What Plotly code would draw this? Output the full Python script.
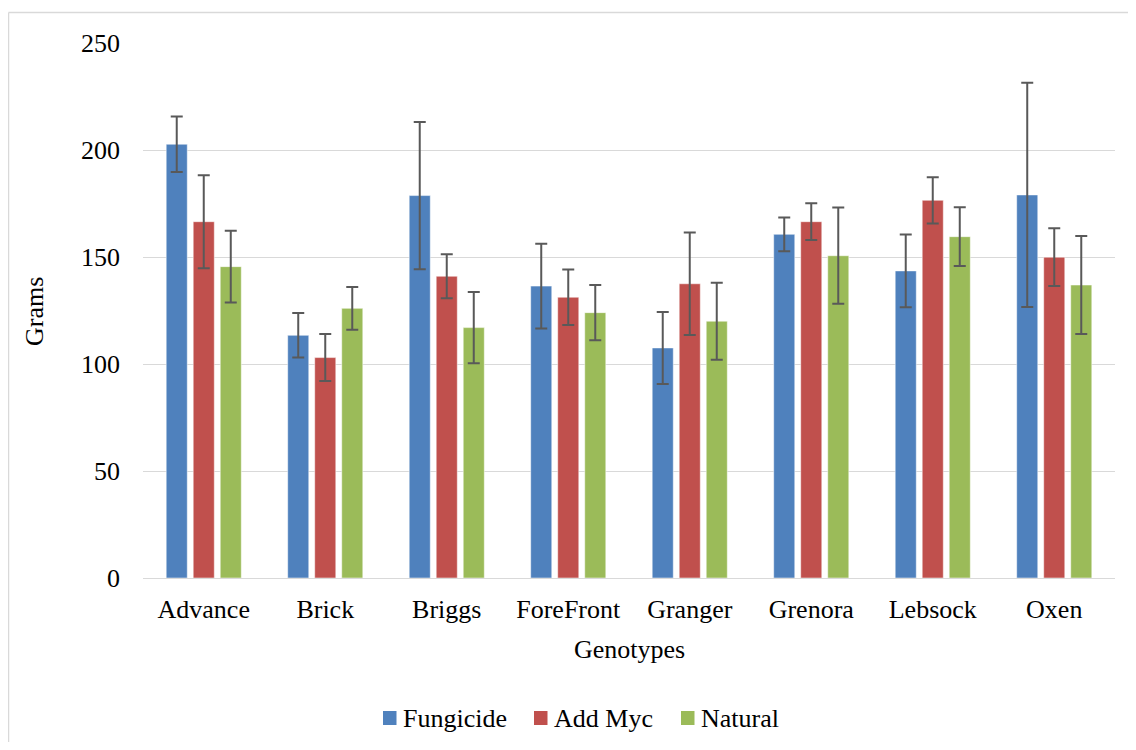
import plotly.graph_objects as go

categories = ["Advance", "Brick", "Briggs", "ForeFront", "Granger", "Grenora", "Lebsock", "Oxen"]
fungicide = [202.7, 113.4, 178.7, 136.4, 107.5, 160.6, 143.5, 179.0]
fungicide_err = [13.0, 10.4, 34.4, 19.8, 16.8, 7.9, 17.0, 52.4]
add_myc = [166.5, 103.0, 141.0, 131.2, 137.5, 166.5, 176.5, 149.9]
add_myc_err = [21.7, 11.0, 10.3, 13.0, 24.0, 8.6, 10.8, 13.5]
natural = [145.5, 126.0, 117.0, 124.0, 120.0, 150.6, 159.5, 136.9]
natural_err = [16.8, 10.0, 16.6, 12.9, 18.0, 22.5, 13.7, 22.9]
tick_vals = [0, 50, 100, 150, 200, 250]

series_names = ["Fungicide", "Add Myc", "Natural"]
series_colors = ["#4F81BD", "#C0504D", "#9BBB59"]
series_vals = [fungicide, add_myc, natural]
series_errs = [fungicide_err, add_myc_err, natural_err]

FONT = "Liberation Serif"
FS = 26

fig = go.Figure()
for name, vals, errs, color in zip(series_names, series_vals, series_errs, series_colors):
    fig.add_trace(go.Bar(
        name=name, x=categories, y=vals, showlegend=False,
        marker=dict(color=color, line=dict(color="rgba(255,255,255,0.5)", width=1)),
        error_y=dict(type="data", array=errs, visible=True, color="#595959",
                     thickness=2, width=6),
    ))

# page offset: the figure is drawn 8px from the page's top-left corner
OFF = 8
W, H = 1120, 734
L = 143 - OFF
T = 43 - OFF
B = H - (578 - OFF)
R = W - (1115 - OFF)
pw = W - L - R
ph = H - T - B


def px(x):
    return (x - OFF - L) / pw


def py(y):
    return (H - B - (y - OFF)) / ph


annotations = [
    dict(text="Genotypes", xref="paper", yref="paper", x=px(629), y=py(649),
         showarrow=False, font=dict(family=FONT, size=FS), xanchor="center", yanchor="middle"),
    dict(text="Grams", xref="paper", yref="paper", x=px(34), y=py(312),
         showarrow=False, font=dict(family=FONT, size=FS), textangle=-90,
         xanchor="center", yanchor="middle"),
]
border = dict(color="#D9D9D9", width=1.5)
shapes = [
    dict(type="line", xref="paper", yref="paper", x0=px(8.5), x1=px(1136), y0=py(12.5), y1=py(12.5),
         line=border, layer="below"),
    dict(type="line", xref="paper", yref="paper", x0=px(8.5), x1=px(8.5), y0=py(12.5), y1=py(750),
         line=border, layer="below"),
]

# manual legend (page pixel positions of swatch left edge and text left edge)
legend_swatch_x = [383, 534, 681]
legend_text_x = [401, 552, 699]
legend_y = 718
for name, color, sx, tx in zip(series_names, series_colors, legend_swatch_x, legend_text_x):
    shapes.append(dict(type="rect", xref="paper", yref="paper",
                       x0=px(sx), x1=px(sx + 13.5), y0=py(legend_y + 7), y1=py(legend_y - 7),
                       line=dict(width=0), fillcolor=color))
    annotations.append(dict(text=name, xref="paper", yref="paper", x=px(tx), y=py(legend_y),
                            showarrow=False, font=dict(family=FONT, size=FS),
                            xanchor="left", yanchor="middle"))

fig.update_layout(
    width=W, height=H,
    margin=dict(l=L, r=R, t=T, b=B),
    barmode="group", bargap=0.333, bargroupgap=0.22,
    plot_bgcolor="white", paper_bgcolor="white",
    font=dict(family=FONT, size=FS, color="#000000"),
    showlegend=False,
    xaxis=dict(showgrid=False, showline=True, linecolor="#D9D9D9", linewidth=1,
               ticks="", tickfont=dict(family=FONT, size=FS), ticklabelstandoff=8),
    yaxis=dict(range=[0, 250], tickvals=tick_vals, showgrid=True, gridcolor="#D9D9D9",
               gridwidth=1, zeroline=False, showline=False, ticks="",
               tickfont=dict(family=FONT, size=FS), ticklabelstandoff=22),
    annotations=annotations,
    shapes=shapes,
)

fig.write_html("out.html")
